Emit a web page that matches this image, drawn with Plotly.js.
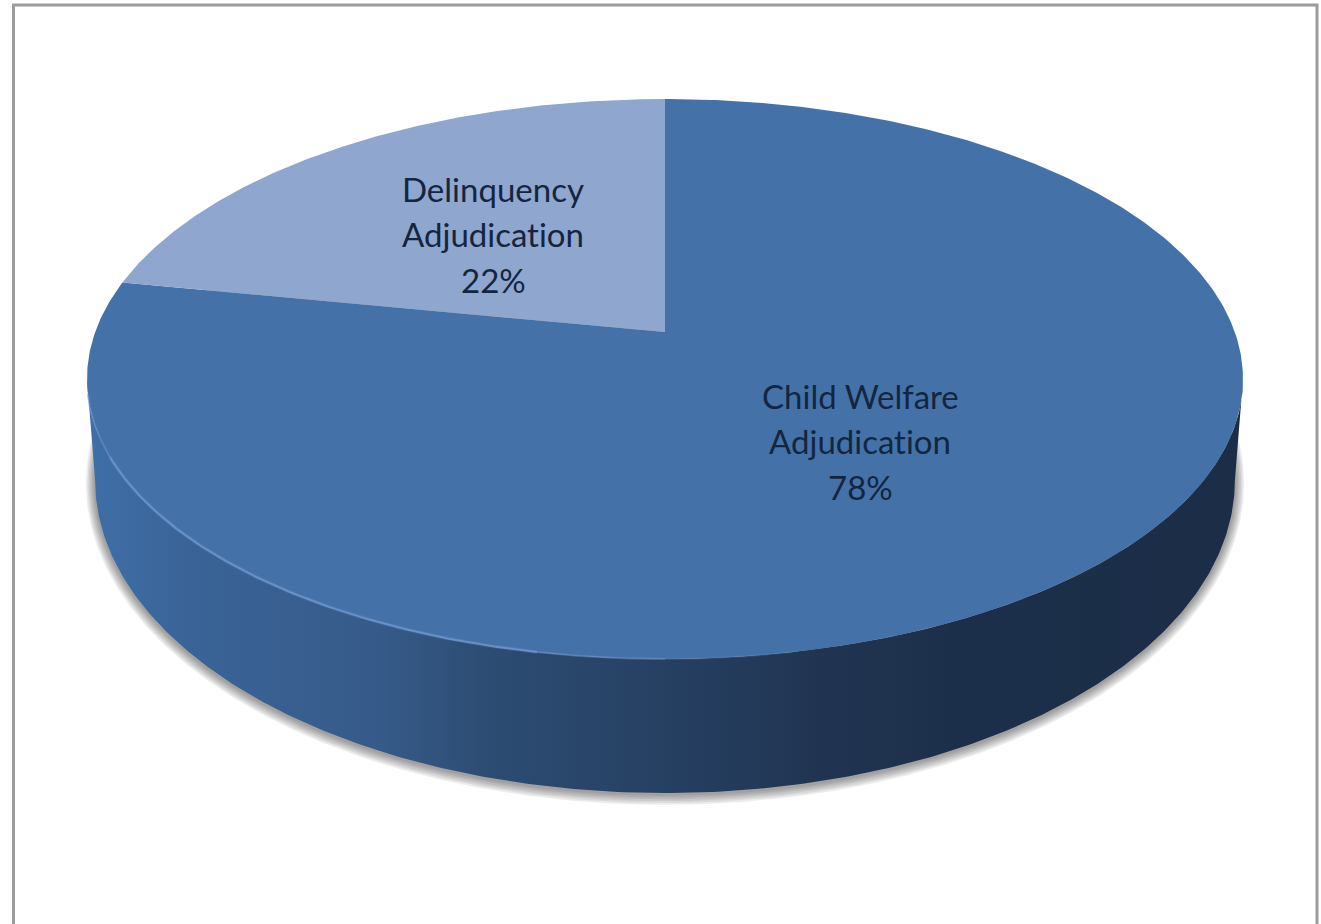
<!DOCTYPE html>
<html>
<head>
<meta charset="utf-8">
<title>Adjudication type</title>
<script src="https://cdn.plot.ly/plotly-3.0.1.min.js"></script>
<style>
html,body{margin:0;padding:0;background:#fff;overflow:hidden}
svg text{font-variant-ligatures:none;font-feature-settings:"liga" 0}
</style>
</head>
<body>
<div id="chart" style="width:1321px;height:924px"></div>
<script>
// Share of cases per adjudication type, clockwise from twelve o'clock
const categories = [["Child Welfare", "Adjudication"], ["Delinquency", "Adjudication"]];
const shares = [78, 22];
const sliceColors = ["#4472a8", "#8fa6cf"];

// Projection of the tilted disc onto the page, in axis units
const W = 1321, H = 924;
const disc = {cx: 665, cy: 332, halfWidth: 569.8, halfDepth: 272.1, persp: 0.1679};
const base = {drop: 95.5, scaleX: 0.986, scaleY: 1.118};

const total = shares.reduce((a, b) => a + b, 0);

// turn: fraction of a revolution clockwise from the far edge of the disc
function project(turn, o) {
  const th = 2 * Math.PI * turn;
  const u = Math.sin(th), v = Math.cos(th);
  const d = 1 + disc.persp * v;
  return [disc.cx + o.scaleX * disc.halfWidth * u / d,
          disc.cy + o.drop - o.scaleY * disc.halfDepth * v / d];
}
const topFace = {drop: 0, scaleX: 1, scaleY: 1};
function arc(t0, t1, o = topFace) {
  const n = Math.max(2, Math.ceil(Math.abs(t1 - t0) * 720));
  const pts = [];
  for (let i = 0; i <= n; i++) pts.push(project(t0 + (t1 - t0) * i / n, o));
  return pts;
}
const xs = p => p.map(q => q[0]);
const ys = p => p.map(q => q[1]);

const traces = [];

// Soft shadow below the rim, stacked translucent rings
[9, 7.5, 6, 4.5, 3, 1.5].forEach(g => {
  const pts = arc(0, 1, {drop: base.drop + 1 + g * 0.1,
                         scaleX: base.scaleX + g / 570, scaleY: base.scaleY + g / 300});
  traces.push({type: "scatter", mode: "lines", x: xs(pts), y: ys(pts), fill: "toself",
    fillcolor: "rgba(35,35,35,0.085)", line: {width: 0}, hoverinfo: "skip", showlegend: false});
});

// Front wall of the disc, between the two silhouette points
const edgeTurn = Math.acos(-disc.persp) / (2 * Math.PI);
const wall = arc(edgeTurn, 1 - edgeTurn).concat(arc(1 - edgeTurn, edgeTurn, base));
traces.push({type: "scatter", mode: "lines", x: xs(wall), y: ys(wall), fill: "toself",
  line: {width: 0}, hoverinfo: "skip", showlegend: false,
  fillcolor: "#264062",
  fillgradient: {type: "horizontal", colorscale: [
    [0, "#3f6fa8"], [0.09, "#3a6397"], [0.25, "#365b8a"], [0.34, "#2d4d74"],
    [0.5, "#264062"], [0.65, "#203350"], [0.75, "#1c2f4a"], [1, "#1b2d47"]]}});

// Top face: one slice per share
let start = 0;
shares.forEach((s, i) => {
  const end = start + s / total;
  const pts = [[disc.cx, disc.cy]].concat(arc(start, end), [[disc.cx, disc.cy]]);
  traces.push({type: "scatter", mode: "lines", name: categories[i].join(" "), x: xs(pts), y: ys(pts),
    fill: "toself", fillcolor: sliceColors[i], line: {width: 0, color: sliceColors[i]},
    hoverinfo: "skip", showlegend: false});
  start = end;
});

// Light catch along the front-left of the top face, fading towards both ends
const rimBands = [
  {from: 0.47, to: 0.50, width: 2, color: "rgba(103,145,200,0.2)"},
  {from: 0.50, to: 0.53, width: 2, color: "rgba(103,145,200,0.55)"},
  {from: 0.53, to: 0.68, width: 2, color: "rgba(103,145,200,1)"},
  {from: 0.53, to: 0.68, width: 4, color: "rgba(103,145,200,0.2)"},
  {from: 0.68, to: 0.715, width: 2, color: "rgba(103,145,200,0.5)"}
];
rimBands.forEach(b => {
  const pts = arc(b.from, b.to);
  traces.push({type: "scatter", mode: "lines", x: xs(pts), y: ys(pts),
    line: {width: b.width, color: b.color}, hoverinfo: "skip", showlegend: false});
});

// Labels, one annotation per line so the leading can be set exactly
const labelAnchors = [[860, 395.5], [493, 188.5]];
const lineStep = 45.5;
const annotations = [];
categories.forEach((lines, i) => {
  lines.concat(shares[i] + "%").forEach((text, j) => {
    annotations.push({
      xref: "x", yref: "y", x: labelAnchors[i][0], y: labelAnchors[i][1] + j * lineStep,
      text, showarrow: false, xanchor: "center", yanchor: "middle",
      font: {family: "Lato, 'Open Sans', sans-serif", size: 33, color: "#14253f"}
    });
  });
});

const layout = {
  width: W, height: H, margin: {l: 0, r: 0, t: 0, b: 0},
  paper_bgcolor: "#ffffff", plot_bgcolor: "#ffffff", showlegend: false,
  xaxis: {range: [0, W], visible: false, fixedrange: true},
  yaxis: {range: [H, 0], visible: false, fixedrange: true},
  shapes: [{type: "rect", xref: "x", yref: "y", x0: 13.5, y0: 5, x1: 1317, y1: H + 20,
    line: {color: "#9c9c9c", width: 3}, fillcolor: "rgba(0,0,0,0)", layer: "below"}],
  annotations
};
Plotly.newPlot("chart", traces, layout, {displayModeBar: false, staticPlot: true});
</script>
</body>
</html>
